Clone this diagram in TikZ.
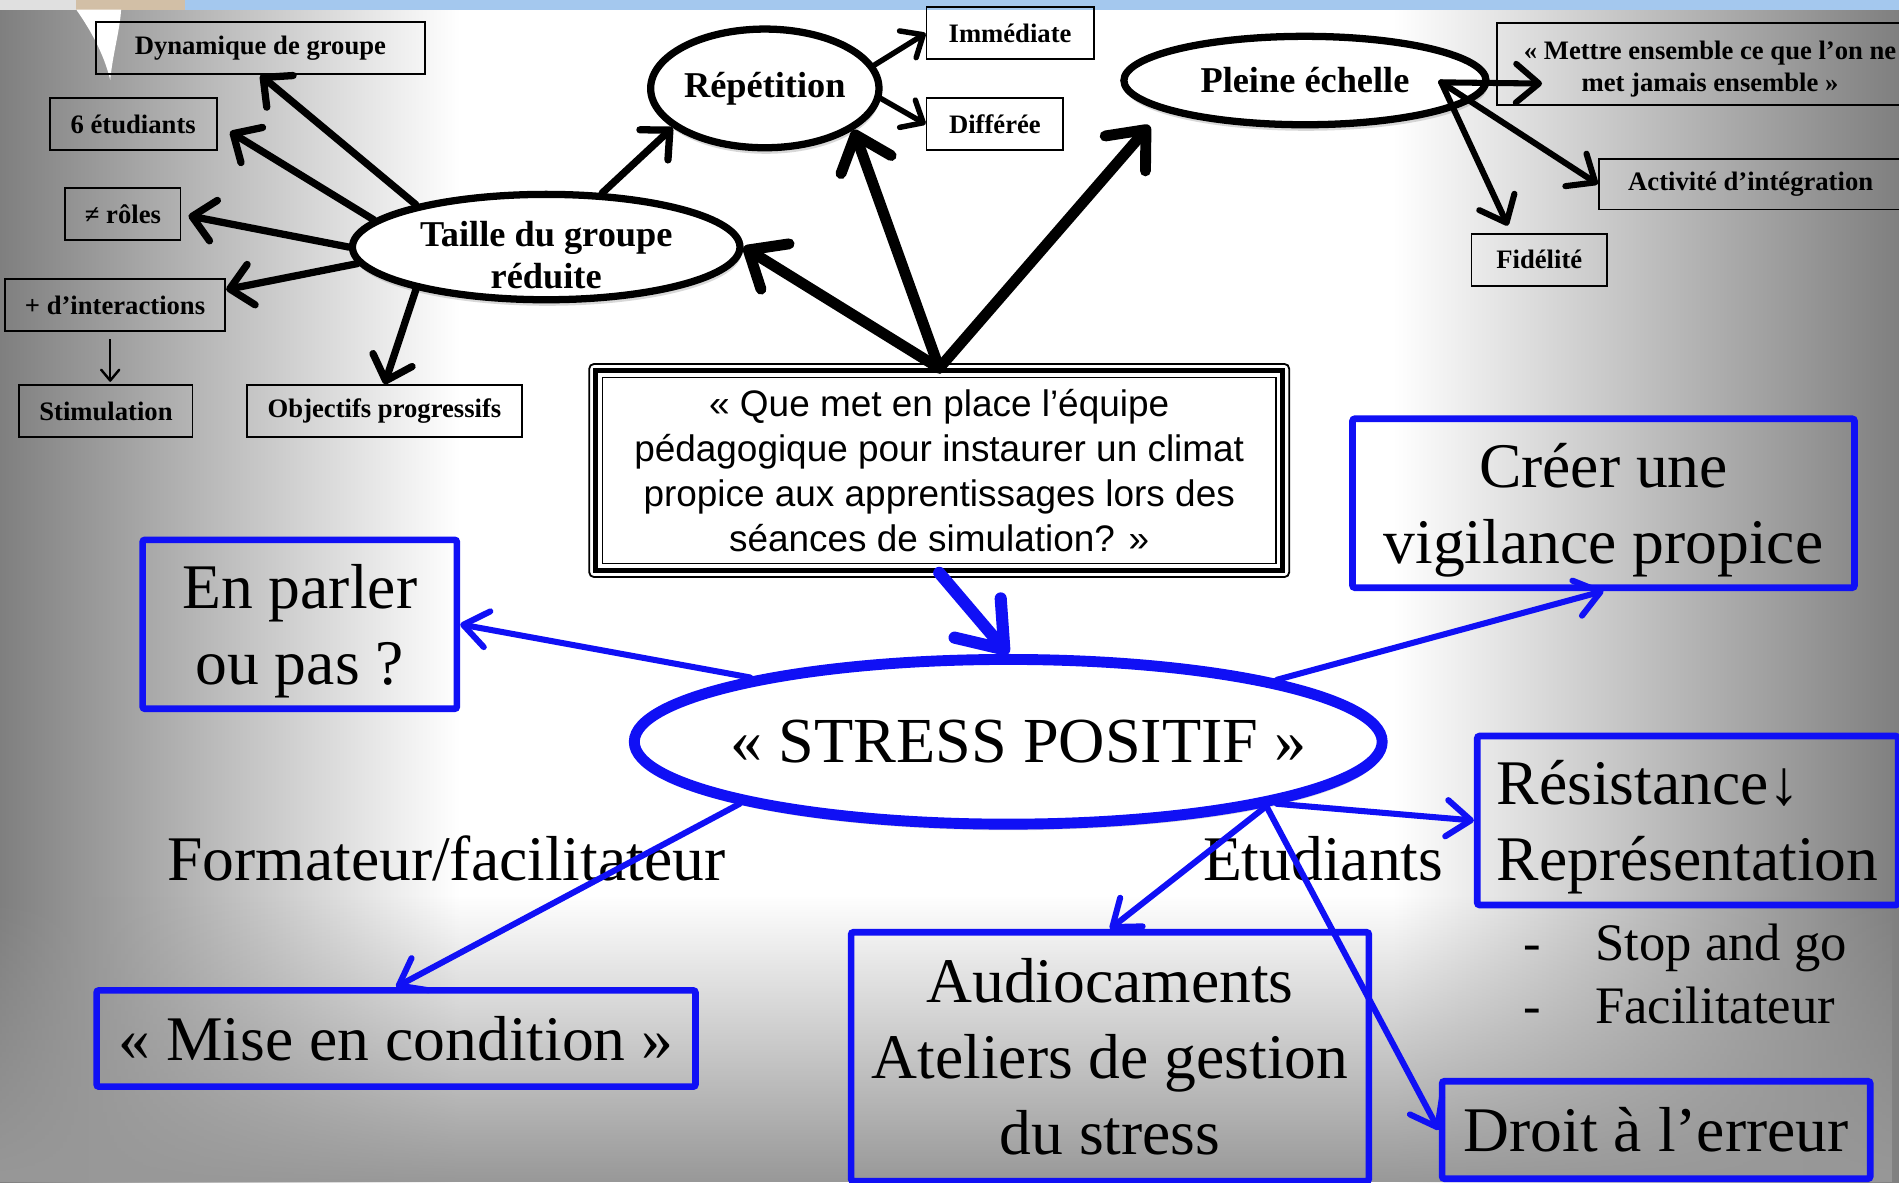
\documentclass[tikz,border=0pt]{standalone}
\usepackage{fontspec}
\setmainfont{Liberation Serif}
\newfontfamily\arialfont{Liberation Sans}
\usetikzlibrary{arrows.meta, shapes.geometric, shadows, fadings, calc}

\definecolor{bggray}{HTML}{7F7F7F}
\definecolor{bandblue}{HTML}{A4C8EE}
\definecolor{bandbeige}{HTML}{D2BFA6}
\definecolor{strongblue}{RGB}{16,16,245}

\begin{document}
\begin{tikzpicture}[
    x = 1pt,
    y = -1pt,
    >={Straight Barb[round, length=18pt, width=34pt]},
    smallbox/.style = {draw=black, line width=1.5pt, minimum height=43pt,
    inner sep=0pt, font=\fontsize{22}{26}\selectfont\bfseries},
    bubble/.style = {ellipse, draw=black, line width=6pt, fill=white,
    inner sep=0pt, align=center, font=\fontsize{30}{35}\selectfont\bfseries,
    drop shadow={opacity=0.3, shadow xshift=1pt, shadow yshift=-5pt}},
    bluebox/.style = {draw=strongblue, line width=5.5pt, rounded corners=2pt,
    inner sep=0pt, align=center, font=\fontsize{52.5}{63}\selectfont},
    bigtext/.style = {inner sep=0pt, font=\fontsize{52.5}{63}\selectfont},
    listtext/.style = {inner sep=0pt, anchor=base west,
    font=\fontsize{43.5}{52}\selectfont},
    blackarrow/.style = {->, line width=6pt, line cap=round},
    heavyarrow/.style = {>={Straight Barb[round, length=26pt, width=44pt]},
    ->, line width=9pt, line cap=round},
    lightarrow/.style = {>={Straight Barb[round, length=15pt, width=26pt]},
    ->, line width=4.5pt, line cap=round},
    hubarrow/.style = {>={Straight Barb[round, length=19pt, width=32pt]},
    ->, line width=5pt, line cap=round},
    thinarrow/.style = {>={Straight Barb[round, length=9pt, width=15pt]},
    ->, line width=2pt},
    bluearrow/.style = {>={Straight Barb[round, length=20pt, width=30pt]},
    ->, draw=strongblue, line width=5pt, line cap=round},
    feedarrow/.style = {>={Straight Barb[round, length=34pt, width=50pt]},
    ->, draw=strongblue, line width=10pt, line cap=round},
]

\useasboundingbox (0,0) rectangle (1568,976);
\clip (0,0) rectangle (1568,976);

% background
\fill [left color=bggray, right color=white] (0,0) rectangle (380,976);
\fill [white] (379,0) rectangle (1151,976);
\fill [left color=white, right color=bggray] (1150,0) rectangle (1568,976);
\fill [bggray!80!white, path fading=north] (0,740) rectangle (1568,976);
\fill [black!12] (0,0) rectangle (63,8);
\fill [bandbeige] (63,0) rectangle (153,8);
\fill [bandblue] (153,0) rectangle (1568,8);
\fill [white] (63,8) .. controls (75,25) and (86,45) .. (91,66)
    .. controls (93,45) and (99,25) .. (100,8) -- cycle;

\node[smallbox, minimum width=272pt] (box_dynamique) at (215,39.75) {Dynamique de groupe};
\node[smallbox, minimum width=138pt] (box_six) at (110,102.5) {6 étudiants};
\node[smallbox, minimum width=95pt] (box_roles) at (101.5,177) {≠ rôles};
\node[smallbox, minimum width=182pt] (box_inter) at (95,252) {+ d’interactions};
\node[smallbox, minimum width=143pt] (box_stim) at (87.5,339.5) {Stimulation};
\node[smallbox, minimum width=227pt] (box_obj) at (317.5,339.5) {Objectifs progressifs};
\node[smallbox, minimum width=138pt] (box_imm) at (834,27.5) {Immédiate};
\node[smallbox, minimum width=113pt] (box_diff) at (821.5,102.5) {Différée};
\node[smallbox, minimum width=352pt, minimum height=68pt, align=center] (box_mettre) at (1412,53) {\rule{0pt}{23pt}« Mettre ensemble ce que l’on ne\\met jamais ensemble »};
\node[smallbox, minimum width=251pt, minimum height=42pt] (box_activite) at (1445.5,152) {Activité d’intégration};
\node[smallbox, minimum width=112pt] (box_fidelite) at (1271,214.5) {Fidélité};

\node[bubble, minimum width=320pt, minimum height=87pt, inner ysep=-10pt] (ell_taille) at (451,204) {\rule{0pt}{34pt}Taille du groupe\\réduite};
\node[bubble, minimum width=183pt, minimum height=98pt] (ell_repetition) at (631.5,73) {Répétition};
\node[bubble, minimum width=299pt, minimum height=73pt] (ell_pleine) at (1077.5,66.5) {Pleine échelle};

\node[draw=black, line width=4pt, fill=white, minimum width=567pt, minimum height=165pt,
    inner sep=0pt, align=center, font=\arialfont\fontsize{30.5}{37}\selectfont] (box_question) at (775.5,388.5)
    {« Que met en place l’équipe\\pédagogique pour instaurer un climat\\propice aux apprentissages lors des\\séances de simulation? »};
\draw [line width=1.5pt, rounded corners=4pt] ([shift={(-3.5,-3.5)}]box_question.north west) rectangle ([shift={(3.5,3.5)}]box_question.south east);
\draw [line width=1pt] ([shift={(7.5,7.5)}]box_question.north west) rectangle ([shift={(-7.5,-7.5)}]box_question.south east);

\node[bubble, draw=strongblue, line width=9pt, minimum width=612pt, minimum height=136pt,
    inner xsep=-28pt, font=\fontsize{53}{62}\selectfont] (ell_stress) at (832.5,612.5) {\hspace*{17pt}« STRESS POSITIF »};

\node[bluebox, minimum width=259.5pt, minimum height=139.5pt] (box_parler) at (247.5,515.5) {En parler\\\smash{ou pas ?}};
\node[bluebox, minimum width=414.5pt, minimum height=139.5pt] (box_vigilance) at (1324,415.5) {Créer une\\\smash{vigilance propice}};
\node[bluebox, minimum width=347.5pt, minimum height=139.5pt, align=left, text width=315pt] (box_resistance) at (1393.5,677.5) {Résistance↓\\\smash{Représentation}};
\node[bluebox, minimum width=427.5pt, minimum height=205.5pt] (box_audio) at (916.5,872.5) {Audiocaments\\Ateliers de gestion\\du stress};
\node[bluebox, minimum width=353.5pt, minimum height=80.5pt] (box_droit) at (1367.5,933) {Droit à l’erreur};
\node[bluebox, minimum width=494.5pt, minimum height=79.5pt] (box_mise) at (327,857.5) {« Mise en condition »};

\node[bigtext, anchor=base] (lbl_formateur) at (368.5,727) {Formateur/facilitateur};
\node[bigtext, anchor=base] (lbl_etudiants) at (1092.5,727) {Etudiants};
\node[listtext] (lbl_dash_a) at (1258,793) {-};
\node[listtext] (lbl_stop) at (1317,793) {Stop and go};
\node[listtext] (lbl_dash_b) at (1258,845) {-};
\node[listtext] (lbl_facil) at (1317,845) {Facilitateur};

\coordinate (pleine_hub) at (1190,68);

\draw [heavyarrow] (box_question.north) -- (ell_taille.east);
\draw [heavyarrow] (box_question.north) -- (ell_repetition.-25);
\draw [heavyarrow, shorten >=16pt] (box_question.north) -- (ell_pleine.192);

\draw [blackarrow] (ell_taille.162) -- (box_dynamique.south);
\draw [blackarrow, shorten >=12pt] (ell_taille.171) -- (box_six.east);
\draw [blackarrow, shorten >=6pt] (ell_taille.180) -- (box_roles.east);
\draw [blackarrow] (ell_taille.185) -- (box_inter.8);
\draw [blackarrow] (ell_taille.198) -- (box_obj.north);
\draw [blackarrow] (ell_taille.44) -- (ell_repetition.203);
\draw [thinarrow] ([xshift=-4pt, yshift=-6pt]box_inter.south) -- ([xshift=3.5pt, yshift=2pt]box_stim.north);

\draw [lightarrow] (ell_repetition.12) -- (box_imm.west);
\draw [lightarrow] (ell_repetition.-5) -- (box_diff.west);

\draw [hubarrow] (pleine_hub) -- ($(box_mettre.west)+(38,16)$);
\draw [hubarrow] (pleine_hub) -- (box_activite.west);
\draw [hubarrow] (pleine_hub) -- ($(box_fidelite.north)+(-26,-6)$);

\draw [feedarrow] (box_question.south) -- (ell_stress.north);
\draw [bluearrow] (ell_stress.166) -- (box_parler.east);
\draw [bluearrow] (ell_stress.13) -- (box_vigilance.south);
\draw [bluearrow] (ell_stress.-13) -- (box_resistance.west);
\draw [bluearrow] (ell_stress.-14) -- (box_audio.north);
\draw [bluearrow] (ell_stress.-14) -- (box_droit.west);
\draw [bluearrow] (ell_stress.193) -- (box_mise.north);

\end{tikzpicture}
\end{document}
